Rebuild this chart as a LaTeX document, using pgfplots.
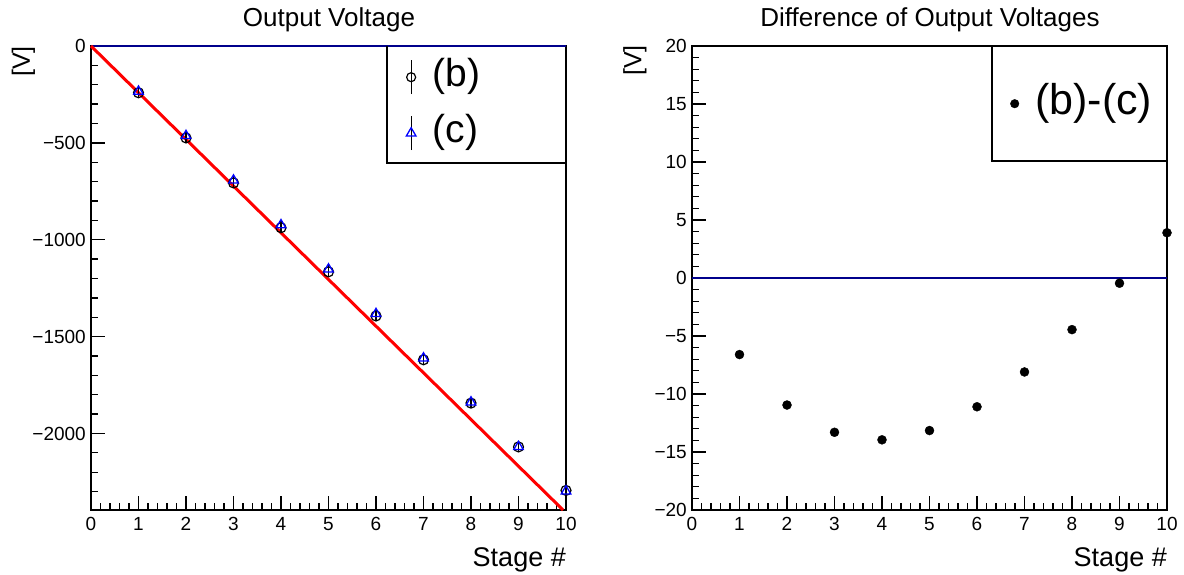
\documentclass[border=0pt]{standalone}
\usepackage{fontspec}
\setmainfont{Liberation Sans}
\usepackage{pgfplots}
\usepackage{pgfplotstable}
\pgfplotsset{compat=1.18}
\definecolor{navy}{RGB}{0,0,140}
\newcommand\fs[1]{\fontsize{#1}{#1}\selectfont}
\pgfplotstableread{
x b c e d
1 -241.3 -234.7 25 -6.6
2 -474.5 -463.5 25 -10.95
3 -706.65 -693.35 25 -13.3
4 -938 -924 25 -13.95
5 -1165.6 -1152.4 25 -13.15
6 -1393.55 -1382.45 25 -11.1
7 -1619.55 -1611.45 25 -8.1
8 -1843.2 -1838.8 25 -4.45
9 -2069.2 -2068.8 25 -0.45
10 -2294.05 -2297.95 25 3.9
}\data
\begin{document}
\begin{tikzpicture}
\path[use as bounding box] (0,0) rectangle (1184pt,574pt);
\pgfplotsset{rootaxis/.style={
  scale only axis, width=475pt, height=464pt, anchor=south west,
  xmin=0, xmax=10, clip=false,
  axis line style={line width=1.6pt},
  tick align=inside, tick pos=left,
  major tick length=14pt, minor tick length=7pt,
  tick style={black, line width=1.3pt},
  xtick={0,1,2,3,4,5,6,7,8,9,10},
  xticklabels={0,1,2,3,4,5,6,7,8,9,10},
  minor xtick={0,0.2,...,10},
  tick label style={font=\fs{19pt}},
  xticklabel style={anchor=base, inner sep=0pt, yshift=-20pt},
  yticklabel style={anchor=east, inner sep=0pt, xshift=-5pt},
  legend style={draw=none, fill=none, anchor=north west, at={(0,1)},
    font=\fs{39pt}, inner sep=0pt,
    nodes={inner sep=0pt, text height=28pt, text depth=9pt},
    row sep=19pt, column sep=16pt},
  legend cell align=left,
}}
\begin{axis}[rootaxis, at={(91pt,64pt)}, ymin=-2395, ymax=0,
  ytick={-2000,-1500,-1000,-500,0},
  yticklabels={−2000,−1500,−1000,−500,0},
  minor ytick={-2300,-2200,...,-100},
  legend style={xshift=314.5pt, yshift=-12.5pt}]
\addplot[navy, line width=1.8pt, forget plot] coordinates {(0,0) (10,0)};
\addplot[red, line width=3pt, forget plot] coordinates {(0,0) (9.938,-2395)};
\addplot[only marks, black, mark=o, mark size=5pt, mark options={line width=1.2pt},
  legend image code/.code={
    \draw[black, line width=1.3pt] (0pt,-17pt) -- (0pt,17pt);
    \draw[black, line width=1.2pt] (0pt,0pt) circle (4.5pt);},
  error bars/.cd, y dir=both, y explicit, error bar style={line width=1.2pt, black}, error mark=none]
  table[x=x, y=b, y error=e]{\data};
\addlegendentry{(b)}
\addplot[only marks, blue, mark=triangle, mark size=5.5pt, mark options={line width=1.3pt},
  legend image code/.code={
    \draw[black, line width=1.3pt] (0pt,-17pt) -- (0pt,17pt);
    \draw[blue, line width=1.3pt] (0pt,5.5pt) -- (-4.8pt,-2.75pt) -- (4.8pt,-2.75pt) -- cycle;},
  error bars/.cd, y dir=both, y explicit, error bar style={line width=1.2pt, black}, error mark=none]
  table[x=x, y=c, y error=e]{\data};
\addlegendentry{(c)}
\end{axis}
\begin{axis}[rootaxis, at={(692pt,64pt)}, ymin=-20, ymax=20,
  ytick={-20,-15,-10,-5,0,5,10,15,20},
  yticklabels={−20,−15,−10,−5,0,5,10,15,20},
  minor ytick={-20,-19,...,20},
  legend style={xshift=318pt, yshift=-37pt, font=\fs{43pt},
    nodes={inner sep=0pt, text height=31pt, text depth=10pt}}]
\addplot[navy, line width=1.8pt, forget plot] coordinates {(0,0) (10,0)};
\addplot[only marks, black, mark=*, mark size=4.5pt,
  legend image code/.code={\fill[black] (0pt,0pt) circle (4.3pt);}]
  table[x=x, y=d]{\data};
\addlegendentry{(b)-(c)}
\end{axis}
\draw[line width=1.3pt] (387pt,528pt) -- (387pt,411pt) -- (566pt,411pt);
\draw[line width=1.3pt] (992pt,528pt) -- (992pt,413pt) -- (1167pt,413pt);
\node[font=\fs{26pt}, anchor=base] at (329pt,547pt) {Output Voltage};
\node[font=\fs{26pt}, anchor=base] at (930pt,547pt) {Difference of Output Voltages};
\node[font=\fs{25pt}, rotate=90, anchor=east, inner sep=0pt] at (23.5pt,528pt) {[V]};
\node[font=\fs{25pt}, rotate=90, anchor=east, inner sep=0pt] at (635pt,529pt) {[V]};
\node[font=\fs{27pt}, anchor=base east, inner sep=0pt] at (566pt,8pt) {Stage \#};
\node[font=\fs{27pt}, anchor=base east, inner sep=0pt] at (1167pt,8pt) {Stage \#};
\end{tikzpicture}
\end{document}
